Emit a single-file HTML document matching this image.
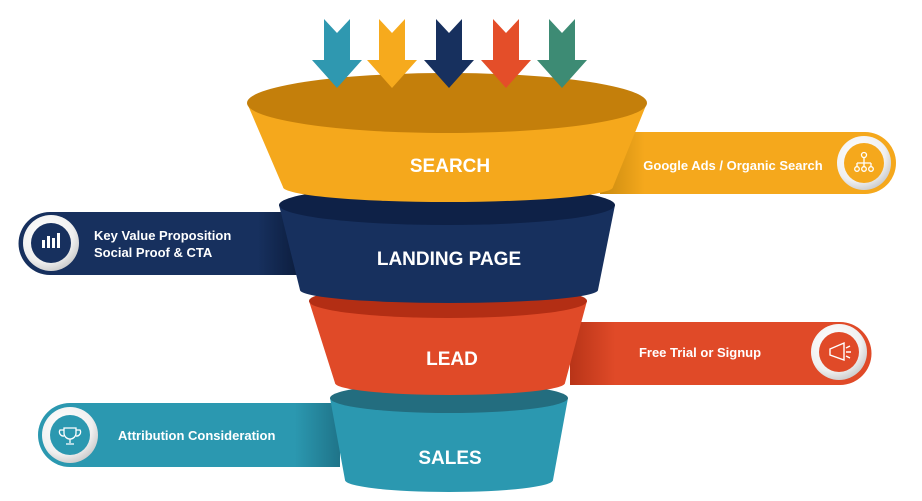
<!DOCTYPE html>
<html><head><meta charset="utf-8"><style>
html,body{margin:0;padding:0;background:#fff;}
svg{display:block;}
text{font-family:"Liberation Sans",sans-serif;font-weight:bold;fill:#fff;}
</style></head><body>
<svg width="922" height="501" viewBox="0 0 922 501">
<defs>
<linearGradient id="gy" x1="0" x2="1"><stop offset="0" stop-color="#c98a10"/><stop offset="0.15" stop-color="#f5a81c"/><stop offset="1" stop-color="#f5a81c"/></linearGradient>
<linearGradient id="gn" x1="0" x2="1"><stop offset="0" stop-color="#17305e"/><stop offset="0.85" stop-color="#17305e"/><stop offset="1" stop-color="#0c1d3d"/></linearGradient>
<linearGradient id="gr" x1="0" x2="1"><stop offset="0" stop-color="#b83418"/><stop offset="0.15" stop-color="#e04a28"/><stop offset="1" stop-color="#e04a28"/></linearGradient>
<linearGradient id="gt" x1="0" x2="1"><stop offset="0" stop-color="#2b98b0"/><stop offset="0.85" stop-color="#2b98b0"/><stop offset="1" stop-color="#1f7489"/></linearGradient>
<radialGradient id="gc" cx="0.4" cy="0.35" r="0.7"><stop offset="0" stop-color="#ffffff"/><stop offset="0.7" stop-color="#f0f0f0"/><stop offset="1" stop-color="#c8c8c8"/></radialGradient>
</defs>
<!-- bars -->
<path d="M600,132 H865 A31,31 0 0 1 865,194 H600 Z" fill="url(#gy)"/>
<circle cx="864" cy="163" r="27" fill="url(#gc)"/><circle cx="864" cy="163" r="20" fill="#f5a81c"/>
<g stroke="#fff" stroke-width="1.3" fill="none"><circle cx="864" cy="155" r="2.5"/><path d="M864,157.5 V163 M857,163 H871 M857,163 V167 M864,163 V167 M871,163 V167"/><circle cx="857" cy="169" r="2.3"/><circle cx="864" cy="169" r="2.3"/><circle cx="871" cy="169" r="2.3"/></g>
<text x="733" y="170" font-size="13" text-anchor="middle">Google Ads / Organic Search</text>

<path d="M300,212 H50 A31.5,31.5 0 0 0 50,275 H300 Z" fill="url(#gn)"/>
<circle cx="51" cy="243" r="28" fill="url(#gc)"/><circle cx="51" cy="243" r="20" fill="#17305e"/>
<g fill="#fff"><rect x="42" y="240" width="3" height="8"/><rect x="47" y="236" width="3" height="12"/><rect x="52" y="238" width="3" height="10"/><rect x="57" y="233" width="3" height="15"/></g>
<text x="94" y="240" font-size="13">Key Value Proposition</text>
<text x="94" y="257" font-size="13">Social Proof &amp; CTA</text>

<path d="M570,322 H840 A31.5,31.5 0 0 1 840,385 H570 Z" fill="url(#gr)"/>
<circle cx="839" cy="352" r="28" fill="url(#gc)"/><circle cx="839" cy="352" r="20" fill="#e04a28"/>
<path d="M830,349 L844,343 V360 L830,355 Z M846,348 L850,346 M846,352 H851 M846,356 L850,358" stroke="#fff" stroke-width="1.4" fill="none"/>
<text x="700" y="357" font-size="13" text-anchor="middle">Free Trial or Signup</text>

<path d="M340,403 H70 A32,32 0 0 0 70,467 H340 Z" fill="url(#gt)"/>
<circle cx="70" cy="435" r="28" fill="url(#gc)"/><circle cx="70" cy="435" r="20" fill="#2b98b0"/>
<path d="M64,428 H76 V433 A6,6 0 0 1 64,433 Z M64,430 H60 A4,4 0 0 0 64,436 M76,430 H80 A4,4 0 0 1 76,436 M70,439 V443 M66,444 H74" stroke="#fff" stroke-width="1.3" fill="none"/>
<text x="118" y="440" font-size="13">Attribution Consideration</text>

<!-- sales -->
<path d="M330,398 L345,480 A104,12 0 0 0 553,480 L568,398 Z" fill="#2b98b0"/>
<ellipse cx="449" cy="398" rx="119" ry="15" fill="#236d7f"/>
<text x="450" y="464" font-size="19" text-anchor="middle">SALES</text>
<!-- lead -->
<path d="M309,301 L335,383 A115,12 0 0 0 565,383 L587,301 Z" fill="#e04a28"/>
<ellipse cx="448" cy="301" rx="139" ry="17" fill="#b32e14"/>
<text x="452" y="365" font-size="19" text-anchor="middle">LEAD</text>
<!-- landing -->
<path d="M279,205 L300,290 A149,13 0 0 0 598,290 L615,205 Z" fill="#17305e"/>
<ellipse cx="447" cy="205" rx="168" ry="20" fill="#0e2147"/>
<text x="449" y="265" font-size="19" text-anchor="middle">LANDING PAGE</text>
<!-- search -->
<path d="M247,103 L283,187 A165,15 0 0 0 613,187 L647,103 Z" fill="#f5a81c"/>
<ellipse cx="447" cy="103" rx="200" ry="30" fill="#c47f0b"/>
<text x="450" y="172" font-size="19" text-anchor="middle">SEARCH</text>
<!-- arrows -->
<g>
<path d="M324,19 L337,33 L350,19 V60 H362 L337,88 L312,60 H324 Z" fill="#2f98b0"/>
<path d="M379,19 L392,33 L405,19 V60 H417 L392,88 L367,60 H379 Z" fill="#f6aa1d"/>
<path d="M436,19 L449,33 L462,19 V60 H474 L449,88 L424,60 H436 Z" fill="#17305e"/>
<path d="M493,19 L506,33 L519,19 V60 H531 L506,88 L481,60 H493 Z" fill="#e44e29"/>
<path d="M549,19 L562,33 L575,19 V60 H587 L562,88 L537,60 H549 Z" fill="#3d8b74"/>
</g>
</svg>
</body></html>
